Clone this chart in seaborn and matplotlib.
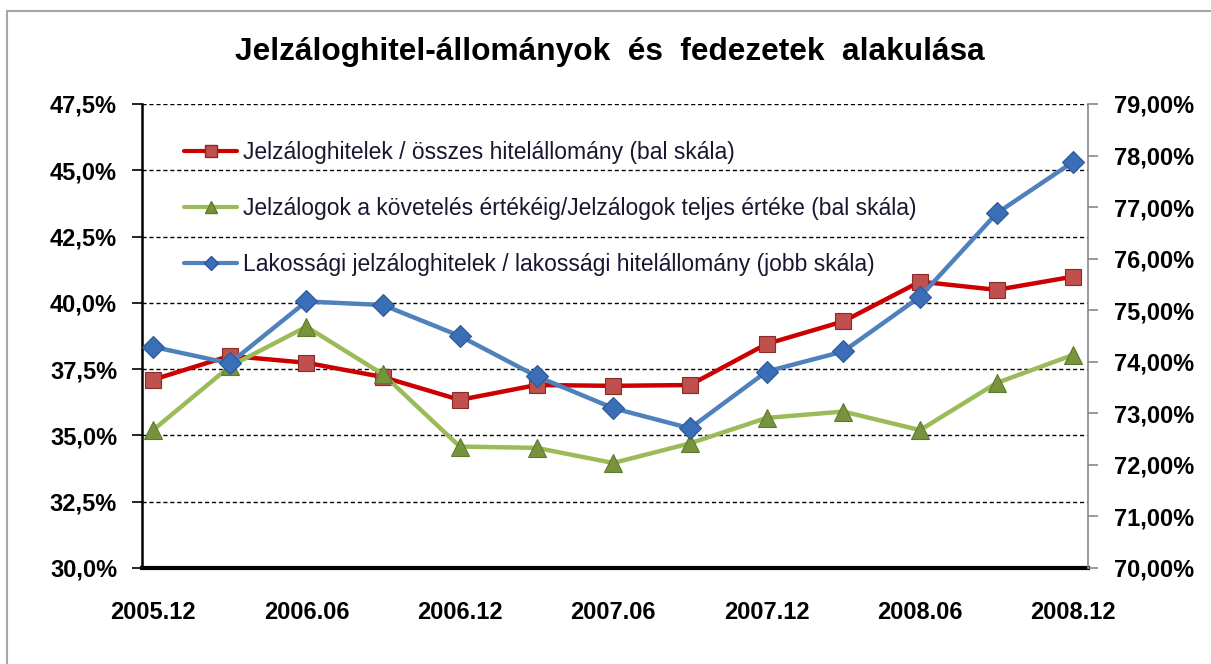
import matplotlib
matplotlib.use("Agg")
import matplotlib.pyplot as plt
import matplotlib.ticker as mticker
from matplotlib.lines import Line2D
import seaborn as sns
import pandas as pd

# Data
periods = ["2005.12", "2006.03", "2006.06", "2006.09", "2006.12", "2007.03", "2007.06",
           "2007.09", "2007.12", "2008.03", "2008.06", "2008.09", "2008.12"]
jelzalog_osszes = [37.1, 38.0, 37.74, 37.2, 36.34, 36.9, 36.87, 36.9, 38.45, 39.3, 40.8, 40.49, 40.99]
fedezet_arany = [35.2, 37.6, 39.1, 37.3, 34.58, 34.53, 33.96, 34.7, 35.66, 35.9, 35.2, 36.98, 38.04]
lakossagi_arany = [74.29, 73.97, 75.17, 75.1, 74.5, 73.72, 73.1, 72.71, 73.81, 74.2, 75.26, 76.88, 77.88]

labels = ["Jelzáloghitelek / összes hitelállomány (bal skála)",
          "Jelzálogok a követelés értékéig/Jelzálogok teljes értéke (bal skála)",
          "Lakossági jelzáloghitelek / lakossági hitelállomány (jobb skála)"]

df = pd.DataFrame({"idx": range(len(periods)), "period": periods,
                   "red": jelzalog_osszes, "green": fedezet_arany, "blue": lakossagi_arany})

sns.set_style("white")
plt.rcParams["font.family"] = ["Liberation Sans", "DejaVu Sans"]

fig = plt.figure(figsize=(12.11, 6.64), dpi=100)
ax = fig.add_axes([0.1173, 0.1446, 0.7811, 0.6988])
ax2 = ax.twinx()

red_line, red_mark = "#CC0000", "#C0504D"
green_line, green_mark = "#9BBB59", "#77933C"
blue_line, blue_mark = "#4F81BD", "#3A6FB8"

sns.lineplot(data=df, x="idx", y="red", ax=ax, color=red_line, linewidth=3.2,
             marker="s", markersize=11, markerfacecolor=red_mark, markeredgecolor="#8B2B28",
             markeredgewidth=0.8, label=labels[0], legend=False)
sns.lineplot(data=df, x="idx", y="green", ax=ax, color=green_line, linewidth=3.2,
             marker="^", markersize=13, markerfacecolor=green_mark, markeredgecolor="#5E7A2C",
             markeredgewidth=0.8, label=labels[1], legend=False)
sns.lineplot(data=df, x="idx", y="blue", ax=ax2, color=blue_line, linewidth=3.2,
             marker="D", markersize=11, markerfacecolor=blue_mark, markeredgecolor="#2B5797",
             markeredgewidth=0.8, label=labels[2], legend=False)

# axes limits / ticks
ax.set_xlim(-0.143, 12.19)
ax.set_ylim(30, 47.5)
ax2.set_ylim(70, 79)
ax.set_yticks([30 + 2.5 * i for i in range(8)])
ax2.set_yticks(range(70, 80))
ax.yaxis.set_major_formatter(mticker.FuncFormatter(lambda v, p: f"{v:.1f}%".replace(".", ",")))
ax2.yaxis.set_major_formatter(mticker.FuncFormatter(lambda v, p: f"{v:.2f}%".replace(".", ",")))

ax.set_xticks(df["idx"][::2])
ax.set_xticklabels(df["period"][::2])
ax.set_xticks([i - 0.143 for i in df["idx"]], minor=True)
ax.tick_params(axis="x", which="major", length=0, pad=24)
ax.tick_params(axis="x", which="minor", length=6, width=2, color="black", direction="out")
ax.set_xlabel("")
ax.set_ylabel("")
ax2.set_ylabel("")

ax.tick_params(axis="y", length=7, width=1.2, color="black", direction="out", pad=11)
ax2.tick_params(axis="y", length=7, width=1.2, color="#888888", direction="out", pad=12)
for a in (ax, ax2):
    for lab in a.get_yticklabels() + a.get_xticklabels():
        lab.set_fontsize(17)
        lab.set_fontweight("bold")
        lab.set_color("black")

ax.grid(axis="y", linestyle=(0, (3, 2)), color="black", linewidth=1.0)
ax.grid(axis="x", visible=False)
ax2.grid(False)

ax.spines["top"].set_visible(False)
ax2.spines["top"].set_visible(False)
ax.spines["left"].set_color("black")
ax.spines["left"].set_linewidth(1.8)
ax.spines["bottom"].set_color("black")
ax.spines["bottom"].set_linewidth(3)
ax.spines["bottom"].set_zorder(5)
ax2.spines["right"].set_color("#888888")
ax2.spines["right"].set_linewidth(1.2)
ax2.spines["left"].set_visible(False)
ax2.spines["bottom"].set_visible(False)
ax.spines["right"].set_visible(False)

# legend
handles = [
    Line2D([], [], color=red_line, linewidth=3, marker="s", markersize=8,
           markerfacecolor=red_mark, markeredgecolor="#8B2B28"),
    Line2D([], [], color=green_line, linewidth=3, marker="^", markersize=9,
           markerfacecolor=green_mark, markeredgecolor="#5E7A2C"),
    Line2D([], [], color=blue_line, linewidth=3, marker="D", markersize=7,
           markerfacecolor=blue_mark, markeredgecolor="#2B5797"),
]
leg = ax2.legend(handles, labels, loc="upper left", bbox_to_anchor=(0.035, 0.94),
                 frameon=False, fontsize=16.5, handlelength=2.3, handletextpad=0.25,
                 labelspacing=1.45, borderaxespad=0)
for t in leg.get_texts():
    t.set_color("#1c1530")

fig.text(0.504, 0.922, "Jelzáloghitel-állományok  és  fedezetek  alakulása",
         ha="center", va="center", fontsize=22.8, fontweight="bold", color="black")

# outer chart frame (top and left edges visible)
fig.add_artist(Line2D([0.006, 1.0], [0.984, 0.984], transform=fig.transFigure,
                      color="#A6A6A6", linewidth=1.5))
fig.add_artist(Line2D([0.006, 0.006], [0.0, 0.984], transform=fig.transFigure,
                      color="#A6A6A6", linewidth=1.5))

fig.savefig("out.png", dpi=100)
